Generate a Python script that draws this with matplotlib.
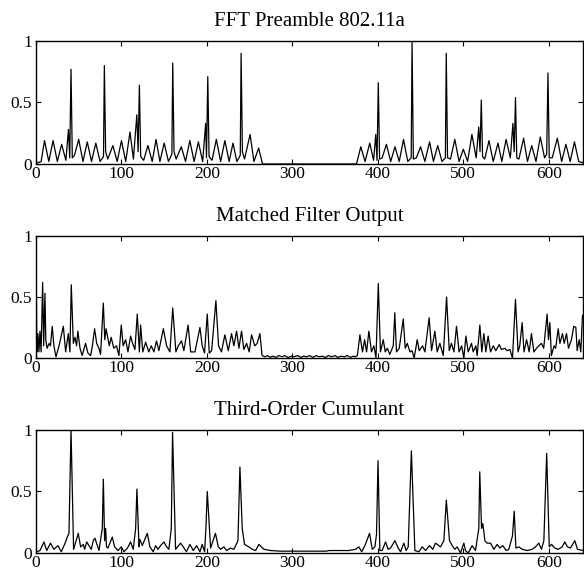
import matplotlib
matplotlib.use("Agg")
import matplotlib.pyplot as plt

plt.rcParams["font.family"] = ["Liberation Serif", "DejaVu Serif"]

titles = ["FFT Preamble 802.11a", "Matched Filter Output", "Third-Order Cumulant"]
x_ticks = [0, 100, 200, 300, 400, 500, 600]
y_ticks = [0, 0.5, 1]
y_tick_labels = ["0", "0.5", "1"]

# vertices (sample index, magnitude)
fft_pts = [
    (0, 0.01), (2, 0.01), (6, 0.02), (10, 0.19), (15, 0.02), (20, 0.19), (25, 0.02),
    (30, 0.16), (35, 0.03), (38, 0.28), (39.5, 0.05), (41, 0.77), (42.5, 0.05),
    (45, 0.07), (50, 0.2), (55, 0.02), (60, 0.18), (65, 0.02), (70, 0.17), (75, 0.02),
    (79, 0.06), (80, 0.8), (81.5, 0.1), (84, 0.04), (90, 0.15), (95, 0.02), (100, 0.19),
    (105, 0.02), (110, 0.26), (114, 0.04), (118, 0.4), (119.5, 0.1), (121, 0.64),
    (122.5, 0.06), (126, 0.03), (131, 0.15), (136, 0.02), (140.5, 0.2), (145, 0.02),
    (150, 0.17), (155, 0.02), (159, 0.08), (160, 0.82), (161.5, 0.1), (164, 0.04),
    (170, 0.14), (175, 0.02), (180, 0.19), (185, 0.02), (190, 0.18), (195, 0.02),
    (198.5, 0.33), (199.5, 0.05), (201, 0.71), (202.5, 0.06), (206, 0.03), (211, 0.2),
    (216, 0.02), (221, 0.19), (226, 0.02), (230.5, 0.17), (235, 0.02), (239, 0.07),
    (240, 0.9), (241.5, 0.1), (244, 0.04), (250.5, 0.24), (255, 0.02), (260.5, 0.13),
    (265, 0.0), (375, 0.0),
    (380, 0.14), (385, 0.02), (390.5, 0.17), (395, 0.03), (397.5, 0.24), (399, 0.03),
    (400.5, 0.66), (402, 0.04), (405, 0.05), (410, 0.16), (415, 0.02), (420, 0.14),
    (425, 0.02), (430, 0.2), (435, 0.02), (439, 0.05), (440, 1.0), (441.5, 0.04),
    (445, 0.05), (450, 0.14), (455, 0.02), (460.5, 0.18), (465, 0.02), (470, 0.15),
    (475, 0.02), (479, 0.05), (480, 0.9), (481.5, 0.05), (485, 0.04), (490, 0.2),
    (495, 0.02), (500, 0.12), (505, 0.02), (510, 0.24), (515, 0.05), (518, 0.3),
    (519.5, 0.1), (521, 0.52), (522.5, 0.06), (525, 0.04), (530, 0.19), (535, 0.02),
    (540.5, 0.17), (545, 0.02), (550, 0.2), (555, 0.05), (558, 0.33), (559.5, 0.1),
    (561, 0.54), (562.5, 0.05), (565, 0.04), (570.5, 0.21), (575, 0.02), (580, 0.15),
    (585, 0.02), (590, 0.22), (595, 0.05), (597.5, 0.08), (599, 0.74), (600.5, 0.05),
    (604, 0.05), (610, 0.21), (615, 0.02), (620, 0.16), (625, 0.02), (630, 0.18),
    (635, 0.02), (640, 0.01),
]

mf_pts = [
    (0, 1.0), (1, 0.05), (2.3, 0.2), (3.5, 0.05), (4.7, 0.22), (6, 0.05), (7.8, 0.62),
    (9, 0.1), (10.5, 0.53), (11.5, 0.15), (13, 0.08), (15.5, 0.12), (17, 0.1),
    (19, 0.26), (21, 0.1), (23.4, 0.01), (27, 0.1), (32, 0.26), (34.7, 0.05),
    (37.8, 0.2), (39.7, 0.05), (41.3, 0.6), (43.7, 0.12), (45.6, 0.17), (47.5, 0.1),
    (49, 0.22), (51.5, 0.08), (54, 0.02), (58, 0.12), (60.8, 0.04), (64, 0.02),
    (66, 0.1), (68.6, 0.24), (71, 0.12), (73.7, 0.08), (75.6, 0.03), (78.8, 0.45),
    (80.5, 0.15), (82, 0.24), (85.8, 0.1), (88, 0.17), (91, 0.08), (94.3, 0.1),
    (97, 0.02), (99.8, 0.27), (102, 0.1), (104.9, 0.15), (107.6, 0.05), (110.7, 0.18),
    (113, 0.12), (115.8, 0.07), (118.5, 0.36), (121, 0.05), (122.4, 0.27), (125, 0.05),
    (128.3, 0.13), (132, 0.05), (134.9, 0.1), (138, 0.05), (141, 0.14), (143.8, 0.06),
    (149, 0.24), (152.8, 0.1), (156.7, 0.05), (160, 0.41), (163.7, 0.05), (166.5, 0.1),
    (170.3, 0.14), (173, 0.06), (178, 0.27), (181, 0.05), (186, 0.05), (191.8, 0.25),
    (194.5, 0.1), (197.2, 0.04), (200.4, 0.36), (202.7, 0.04), (205.5, 0.06),
    (210.5, 0.47), (213.6, 0.1), (217, 0.05), (221, 0.19), (225, 0.06), (228.8, 0.2),
    (231.5, 0.1), (234.7, 0.22), (237.4, 0.08), (240.5, 0.22), (243.2, 0.07),
    (246.4, 0.12), (249.5, 0.05), (252.2, 0.19), (256, 0.1), (258.8, 0.12), (262, 0.2),
    (264.5, 0.02),
    (268, 0.01), (271, 0.02), (274, 0.005), (277, 0.015), (281, 0.005), (284, 0.02),
    (288, 0.01), (291, 0.02), (295, 0.005), (299, 0.015), (302, 0.01), (306, 0.02),
    (310, 0.005), (313, 0.015), (317, 0.01), (320, 0.02), (324, 0.005), (328, 0.02),
    (331, 0.01), (335, 0.015), (339, 0.005), (342, 0.02), (346, 0.01), (350, 0.02),
    (353, 0.005), (357, 0.015), (361, 0.01), (364, 0.02), (368, 0.005), (371, 0.015),
    (374, 0.01),
    (376, 0.02), (379, 0.19), (382, 0.05), (384.5, 0.15), (386.8, 0.05), (389.5, 0.22),
    (392.5, 0.05), (395.4, 0.1), (397.8, 0.0), (400.5, 0.61), (403, 0.05), (406.3, 0.15),
    (408.6, 0.05), (411, 0.08), (414, 0.03), (418, 0.1), (419.8, 0.37), (421.8, 0.05),
    (425, 0.08), (429.7, 0.32), (432, 0.08), (434.4, 0.12), (437.5, 0.05), (440, 0.06),
    (442.5, 0.0), (446, 0.15), (448.4, 0.06), (452.3, 0.1), (455, 0.05), (460, 0.33),
    (462.8, 0.06), (466.7, 0.22), (469.4, 0.05), (472.5, 0.12), (476.5, 0.02),
    (480.4, 0.5), (483.5, 0.06), (486, 0.12), (489, 0.05), (492, 0.26), (495, 0.05),
    (498, 0.1), (500.6, 0.0), (503, 0.18), (505.7, 0.05), (509.6, 0.12), (511.5, 0.05),
    (514.6, 0.1), (516.2, 0.02), (519.3, 0.27), (521.6, 0.05), (524, 0.2), (526.3, 0.05),
    (529, 0.18), (531.8, 0.05), (535, 0.1), (538, 0.06), (542, 0.11), (544.6, 0.07),
    (548.5, 0.08), (551.3, 0.06), (554.4, 0.07), (557.5, 0.0), (561, 0.48), (564, 0.05),
    (566, 0.1), (568.8, 0.29), (571, 0.05), (574, 0.15), (577, 0.05), (579.7, 0.2),
    (582.5, 0.05), (585.6, 0.08), (588.3, 0.1), (591.4, 0.12), (594, 0.08), (598, 0.36),
    (599.6, 0.15), (601.2, 0.29), (603, 0.02), (606.2, 0.1), (608, 0.08), (611, 0.24),
    (613, 0.12), (616, 0.2), (618, 0.12), (620.7, 0.2), (623, 0.08), (626.5, 0.15),
    (629.2, 0.26), (631.6, 0.25), (633.2, 0.06), (635.5, 0.15), (637.4, 0.05),
    (639.4, 0.35), (640, 0.35),
]

cum_pts = [
    (0, 0.01), (0.8, 0.01), (4.7, 0.02), (9.4, 0.09), (12.5, 0.02), (17, 0.08),
    (21, 0.03), (25.7, 0.06), (29.6, 0.01), (34.7, 0.09), (36.6, 0.13), (38.6, 0.16),
    (41, 1.0), (44, 0.03), (49.5, 0.16), (52.2, 0.05), (55.4, 0.07), (57, 0.03),
    (59.3, 0.09), (62, 0.06), (64.7, 0.03), (67, 0.1), (69, 0.12), (73.7, 0.02),
    (77.6, 0.2), (78.8, 0.6), (80.3, 0.1), (81.5, 0.2), (82.5, 0.05), (84.2, 0.04),
    (89.3, 0.13), (92, 0.05), (96, 0.02), (99.8, 0.05), (103, 0.01), (107, 0.04),
    (110.7, 0.09), (113.8, 0.03), (116.6, 0.2), (118.1, 0.52), (120.5, 0.05),
    (121.6, 0.11), (124.4, 0.06), (130.2, 0.16), (133.3, 0.05), (137.2, 0.01),
    (140, 0.06), (142.7, 0.03), (145.8, 0.06), (149.7, 0.09), (152.8, 0.05),
    (155.5, 0.03), (158.3, 0.2), (159.8, 0.98), (163.3, 0.03), (169.2, 0.08),
    (172.3, 0.05), (176, 0.01), (180.1, 0.07), (184, 0.02), (188, 0.06), (191.8, 0.01),
    (194.5, 0.07), (197.3, 0.01), (198.8, 0.2), (200.4, 0.5), (204.3, 0.04), (210, 0.16),
    (213.3, 0.05), (216, 0.03), (219.9, 0.05), (223, 0.02), (227.7, 0.04), (231.6, 0.03),
    (236.3, 0.1), (238.6, 0.7), (241.3, 0.2), (244, 0.07), (249, 0.05), (253, 0.03),
    (257, 0.02), (260.8, 0.07), (266.7, 0.03), (274.5, 0.02), (286, 0.015), (340, 0.015),
    (342.7, 0.02), (366, 0.02), (373.9, 0.03), (377.8, 0.05), (381, 0.01), (384.8, 0.06),
    (390.3, 0.16), (393.4, 0.03), (396.5, 0.05), (398.4, 0.15), (400.2, 0.75),
    (402.3, 0.02), (405, 0.02), (409, 0.09), (412, 0.03), (414.8, 0.04), (419.9, 0.1),
    (423.8, 0.04), (426.5, 0.01), (430.4, 0.08), (433.1, 0.02), (435.5, 0.05),
    (439.2, 0.83), (443.3, 0.02), (448, 0.01), (451.9, 0.05), (455.8, 0.02),
    (460.4, 0.06), (464.3, 0.03), (467.4, 0.08), (473.3, 0.05), (477.2, 0.1),
    (480.1, 0.43), (483.8, 0.1), (487, 0.06), (490, 0.03), (492.8, 0.05), (496.7, 0.0),
    (500.6, 0.08), (502.5, 0.02), (505.7, 0.0), (510.3, 0.06), (514.2, 0.02),
    (518.1, 0.2), (519.2, 0.66), (521.3, 0.2), (522.8, 0.24), (525.2, 0.1),
    (527.8, 0.08), (531.8, 0.08), (535.7, 0.03), (539.6, 0.07), (542.7, 0.04),
    (546.2, 0.06), (550, 0.02), (553.2, 0.03), (557.5, 0.14), (559.5, 0.34), (561.5, 0.04),
    (565, 0.05), (568.8, 0.03), (574.7, 0.02), (580.5, 0.03), (584.4, 0.05),
    (588.3, 0.08), (591.4, 0.03), (594.2, 0.1), (597.5, 0.81), (600.5, 0.05),
    (603.2, 0.07), (607, 0.04), (611, 0.03), (615.6, 0.05), (618.7, 0.09),
    (621.8, 0.05), (625.3, 0.04), (630.4, 0.1), (633.5, 0.03), (640, 0.02),
]

series = [fft_pts, mf_pts, cum_pts]

fig = plt.figure(figsize=(5.84, 5.73), dpi=100)

# axes boxes in figure fractions: [left, bottom, width, height]
boxes = [
    [0.0616, 0.7138, 0.9367, 0.2147],
    [0.0616, 0.3752, 0.9367, 0.2130],
    [0.0616, 0.0349, 0.9367, 0.2147],
]

for box, pts, title in zip(boxes, series, titles):
    ax = fig.add_axes(box)
    xs = [p[0] for p in pts]
    ys = [p[1] for p in pts]
    ax.plot(xs, ys, color="black", linewidth=0.9)

    ax.set_xlim(0, 640)
    ax.set_ylim(0, 1)
    ax.set_xticks(x_ticks)
    ax.set_yticks(y_ticks)
    ax.set_yticklabels(y_tick_labels)
    ax.tick_params(direction="in", top=True, right=True, length=3.5,
                   width=0.8, labelsize=12.5, colors="black")
    ax.tick_params(axis="x", pad=1.5)
    ax.tick_params(axis="y", pad=3)
    for s in ax.spines.values():
        s.set_linewidth(1.0)
    ax.set_title(title, fontsize=15, pad=10.5)

fig.savefig("out.png", dpi=100)
